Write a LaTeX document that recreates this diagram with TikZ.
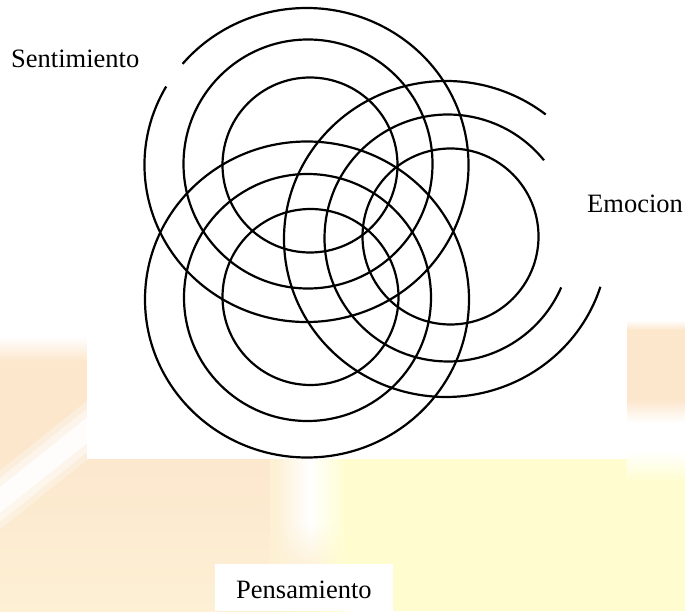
\documentclass[tikz,border=0pt]{standalone}
\usepackage{fontspec}
\setmainfont{Liberation Serif}
\definecolor{peach}{HTML}{FCE7CD}
\definecolor{cream}{HTML}{FDF0D4}
\definecolor{ylw}{HTML}{FFFDD0}
\begin{document}
\begin{tikzpicture}[x=1pt,y=1pt,
  ringline/.style={line width=2.2pt, draw=black},
  lbl/.style={font=\fontsize{26.5}{30}\selectfont, inner sep=0pt, anchor=base west},
  softwhite/.style={white, line cap=round}]
\useasboundingbox (0,0) rectangle (685,611);
% ---------- background ----------
\fill[white] (0,0) rectangle (685,611);
\shade[top color=peach,bottom color=cream] (0,0) rectangle (300,160);
\fill[peach] (0,160) rectangle (87,250);
\shade[top color=white,bottom color=peach] (0,250) rectangle (87,275);
\fill[ylw] (330,0) rectangle (685,152);
\shade[left color=cream,right color=ylw] (270,0) rectangle (345,152);
\foreach \k in {0,...,24}{
  \pgfmathsetmacro{\p}{min(100,4*\k+4)}
  \colorlet{bandmid}{white!\p!cream}
  \shade[left color=cream,right color=ylw,middle color=bandmid]
    (275,{40+2*\k}) rectangle (345,{42.2+2*\k});
}
\shade[left color=cream,right color=ylw,middle color=white] (275,90) rectangle (345,152);
\shade[top color=white,bottom color=peach] (627,281) rectangle (685,291);
\fill[peach] (627,211) rectangle (685,281);
\shade[top color=peach,bottom color=white] (627,188) rectangle (685,211);
\shade[top color=white,bottom color=ylw] (627,130) rectangle (685,160);
\draw[softwhite,line width=46pt,opacity=0.3] (-10,103) -- (100,191);
\draw[softwhite,line width=34pt,opacity=0.45] (-10,103) -- (100,191);
\draw[softwhite,line width=20pt,opacity=0.8] (-10,103) -- (100,191);
% white panel
\fill[white] (87,152) rectangle (627,611);
\fill[white] (215,0) rectangle (393,47);
% ---------- centres ----------
\coordinate (S1) at (310,446);
\coordinate (S2) at (308,447);
\coordinate (S3) at (306.5,446);
\coordinate (E1) at (450.5,374.5);
\coordinate (E2) at (448,373);
\coordinate (E3) at (446,372);
\coordinate (P1) at (310.5,314);
\coordinate (P2) at (307.5,313.5);
\coordinate (P3) at (307,311.5);
% ---------- rings ----------
\draw[ringline] (S1) circle[radius=87.5];
\draw[ringline] (S2) circle[radius=124.5];
\draw[ringline] (S3) ++(150:162 and 157) arc[start angle=150,end angle=499.9,x radius=162,y radius=157];
\draw[ringline] (E1) circle[radius=88];
\draw[ringline] (E2) ++(39:123.5) arc[start angle=39,end angle=336.4,radius=123.5];
\draw[ringline] (E3) ++(52:162 and 158) arc[start angle=52,end angle=342.4,x radius=162,y radius=158];
\draw[ringline] (P1) circle[radius=88];
\draw[ringline] (P2) circle[radius=123.5];
\draw[ringline] (P3) ellipse[x radius=162,y radius=158];
% ---------- labels ----------
\node[lbl] (sent) at (11,543) {Sentimiento};
\node[lbl] (emo) at (587,398) {Emocion};
\node[lbl] (pens) at (236,13) {Pensamiento};
\end{tikzpicture}
\end{document}
